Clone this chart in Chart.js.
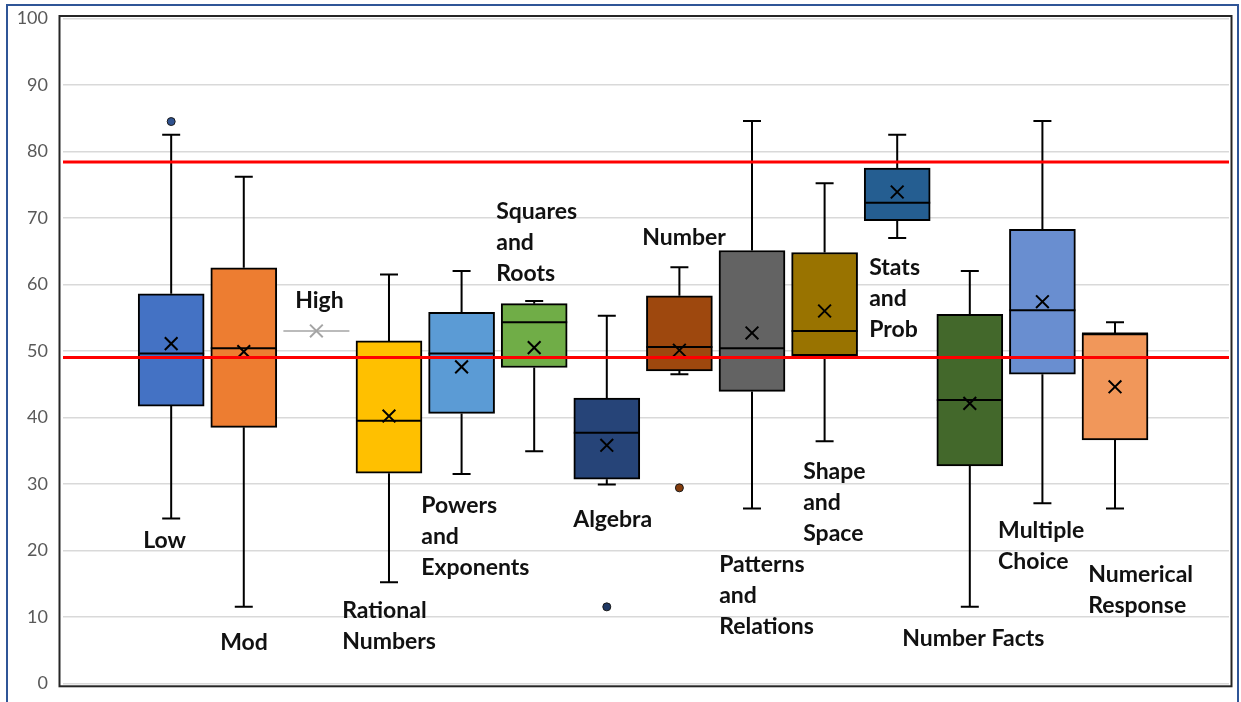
<!DOCTYPE html>
<html>
<head>
<meta charset="utf-8">
<script src="https://cdn.jsdelivr.net/npm/chart.js@4.4.1/dist/chart.umd.min.js"></script>
<style>
  html, body { margin: 0; padding: 0; background: #ffffff; overflow: hidden; }
  canvas { display: block; }
</style>
</head>
<body>
<canvas id="chart" width="1241" height="702"></canvas>
<script>
// Score distribution per reporting category (box = Q1..Q3, whiskers = min..max)
const categories = ['Low', 'Mod', 'High', 'Rational Numbers', 'Powers and Exponents',
  'Squares and Roots', 'Algebra', 'Number', 'Patterns and Relations', 'Shape and Space',
  'Stats and Prob', 'Number Facts', 'Multiple Choice', 'Numerical Response'];
const whiskerLow  = [24.8, 11.5, 53.0, 15.2, 31.5, 34.9, 29.9, 46.5, 26.3, 36.4, 67.0, 11.5, 27.1, 26.3];
const quartile1   = [41.7, 38.5, 53.0, 31.6, 40.6, 47.5, 30.7, 47.0, 43.9, 49.3, 69.6, 32.7, 46.5, 36.6];
const medians     = [49.6, 50.4, 53.0, 39.5, 49.6, 54.3, 37.7, 50.6, 50.4, 53.0, 72.3, 42.6, 56.1, 52.6];
const quartile3   = [58.6, 62.5, 53.0, 51.5, 55.8, 57.1, 42.9, 58.3, 65.1, 64.8, 77.5, 55.5, 68.3, 52.6];
const whiskerHigh = [82.5, 76.2, 53.0, 61.5, 62.0, 57.5, 55.3, 62.6, 84.6, 75.2, 82.5, 62.0, 84.6, 54.3];
const means       = [51.1, 49.9, 53.0, 40.2, 47.6, 50.5, 35.8, 50.1, 52.7, 56.0, 73.9, 42.1, 57.4, 44.6];
const outlierCategory = [0, 6, 7];
const outlierValues   = [84.5, 11.5, 29.4];
const referenceLines  = [78.4, 49.0];
const yTickValues = [0, 10, 20, 30, 40, 50, 60, 70, 80, 90, 100];

// Styling
const boxColors = ['#4472C4', '#ED7D31', '#A5A5A5', '#FFC000', '#5B9BD5', '#70AD47', '#264478',
  '#9E480E', '#636363', '#997300', '#255E91', '#43682B', '#698ED0', '#F1975A'];
const outlierColors = ['#2F528F', '#1F3864', '#843C0C'];
const markColor = (i) => (quartile1[i] === quartile3[i] ? '#A5A5A5' : '#000000');

// Text boxes placed in data units (x = category slot, y = score of first line)
const labelLines = [['Low'], ['Mod'], ['High'], ['Rational', 'Numbers'], ['Powers', 'and', 'Exponents'],
  ['Squares', 'and', 'Roots'], ['Algebra'], ['Number'], ['Patterns', 'and', 'Relations'],
  ['Shape', 'and', 'Space'], ['Stats', 'and', 'Prob'], ['Number Facts'], ['Multiple', 'Choice'],
  ['Numerical', 'Response']];
const labelAnchors = [
  { x: -0.386, y: 21.4 }, { x: 0.675, y: 6.1 }, { x: 1.708, y: 57.6 }, { x: 2.355, y: 10.9 },
  { x: 3.444, y: 26.7 }, { x: 4.477, y: 70.9 }, { x: 5.537, y: 24.7 }, { x: 6.488, y: 67.0 },
  { x: 7.548, y: 17.9 }, { x: 8.705, y: 31.8 }, { x: 9.614, y: 62.5 }, { x: 10.07, y: 6.7 },
  { x: 11.39, y: 22.9 }, { x: 12.63, y: 16.3 }];

const boxParts = {
  id: 'boxParts',
  beforeDatasetsDraw(chart) {
    const { ctx, scales: { x, y } } = chart;
    ctx.save();
    ctx.strokeStyle = '#000000';
    ctx.lineWidth = 2;
    categories.forEach((_, i) => {
      const cx = x.getPixelForValue(i);
      [[whiskerLow[i], quartile1[i]], [whiskerHigh[i], quartile3[i]]].forEach(([end, edge]) => {
        if (end === edge) return;
        const ye = y.getPixelForValue(end);
        const yb = y.getPixelForValue(edge);
        ctx.beginPath();
        ctx.moveTo(cx, yb);
        ctx.lineTo(cx, ye);
        ctx.moveTo(cx - 9, ye);
        ctx.lineTo(cx + 9, ye);
        ctx.stroke();
      });
    });
    ctx.restore();
  },
  afterDatasetsDraw(chart) {
    const { ctx, chartArea, scales: { x, y } } = chart;
    const bars = chart.getDatasetMeta(0).data;
    ctx.save();
    // medians
    bars.forEach((bar, i) => {
      const ym = y.getPixelForValue(medians[i]);
      const half = bar.width / 2;
      ctx.beginPath();
      ctx.strokeStyle = markColor(i);
      ctx.lineWidth = quartile1[i] === quartile3[i] ? 1.5 : 2;
      ctx.moveTo(bar.x - half, ym);
      ctx.lineTo(bar.x + half, ym);
      ctx.stroke();
    });
    // reference lines
    ctx.strokeStyle = '#FF0000';
    ctx.lineWidth = 3;
    referenceLines.forEach((v) => {
      const yy = y.getPixelForValue(v);
      ctx.beginPath();
      ctx.moveTo(chartArea.left, yy);
      ctx.lineTo(chartArea.right, yy);
      ctx.stroke();
    });
    // category text boxes
    ctx.fillStyle = '#111111';
    ctx.font = 'bold 23px Lato';
    ctx.textAlign = 'left';
    ctx.textBaseline = 'middle';
    labelLines.forEach((lines, i) => {
      const lx = x.getPixelForValue(labelAnchors[i].x);
      const ly = y.getPixelForValue(labelAnchors[i].y);
      lines.forEach((t, k) => ctx.fillText(t, lx, ly + k * 31));
    });
    ctx.restore();
  },
  afterDraw(chart) {
    const { ctx, chartArea: a } = chart;
    ctx.save();
    ctx.strokeStyle = '#262626';
    ctx.lineWidth = 2;
    ctx.strokeRect(a.left - 3.5, a.top - 2.5, a.right - a.left + 6, a.bottom - a.top + 5.5);
    ctx.strokeStyle = '#2F5597';
    ctx.lineWidth = 2;
    ctx.strokeRect(7, 5, 1231, 760);
    ctx.restore();
  }
};

new Chart(document.getElementById('chart'), {
  type: 'bar',
  data: {
    datasets: [
      {
        type: 'bar',
        order: 3,
        data: categories.map((c, i) => ({ x: i, y: [quartile1[i], quartile3[i]] })),
        backgroundColor: boxColors,
        borderColor: '#000000',
        borderWidth: 2,
        borderSkipped: false,
        barThickness: 66
      },
      {
        type: 'scatter',
        order: 2,
        data: categories.map((c, i) => ({ x: i, y: means[i] })),
        pointStyle: 'crossRot',
        pointRadius: 9,
        borderWidth: 2,
        borderColor: categories.map((c, i) => markColor(i))
      },
      {
        type: 'scatter',
        order: 1,
        data: outlierCategory.map((c, k) => ({ x: c, y: outlierValues[k] })),
        pointStyle: 'circle',
        pointRadius: 4,
        borderWidth: 1,
        borderColor: '#1A1A1A',
        backgroundColor: outlierColors
      }
    ]
  },
  options: {
    responsive: false,
    animation: false,
    layout: { padding: { top: 18.5, right: 12, bottom: 18.7, left: 0 } },
    plugins: { legend: { display: false }, tooltip: { enabled: false } },
    scales: {
      x: { type: 'linear', min: -1.49, max: 14.57, offset: false, display: false },
      y: {
        min: 0, max: 100,
        afterFit(s) { s.width = 63; s.paddingTop = 0; s.paddingBottom = 0; },
        afterBuildTicks(s) { s.ticks = yTickValues.map((v) => ({ value: v })); },
        ticks: { padding: 15, color: '#595959', font: { family: 'Lato', size: 18 } },
        grid: { color: '#D9D9D9', lineWidth: 1.5, drawTicks: false },
        border: { display: false }
      }
    }
  },
  plugins: [boxParts]
});
</script>
</body>
</html>
